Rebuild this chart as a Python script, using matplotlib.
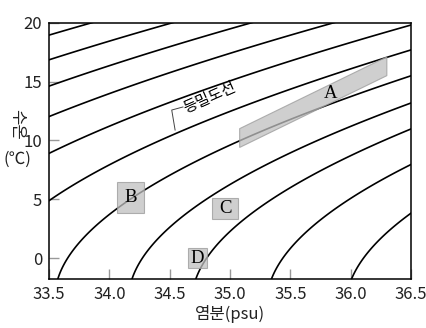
import numpy as np
import matplotlib.pyplot as plt
import matplotlib.patches as patches

plt.rcParams['font.family'] = ['Noto Sans CJK KR', 'DejaVu Sans']

# 등밀도선 값 (sigma-t), 그림에서 읽은 값
sigma_levels = [23.89, 24.4, 24.9, 25.42, 25.96, 26.5, 27.02, 27.52, 27.95, 28.46, 29.0]

x_ticks = [33.5, 34.0, 34.5, 35.0, 35.5, 36.0, 36.5]
y_ticks = [0, 5, 10, 15, 20]

# 수괴 B, C, D (염분 범위, 수온 범위)
box_labels = ['B', 'C', 'D']
box_sal_min = [34.065, 34.85, 34.65]
box_sal_max = [34.29, 35.07, 34.81]
box_temp_min = [3.8, 3.3, -0.82]
box_temp_max = [6.47, 5.08, 0.83]

# 수괴 A (기울어진 영역)
area_a_sal = [35.08, 35.08, 36.3, 36.3]
area_a_temp = [11.0, 9.4, 15.5, 17.1]
area_a_label = (35.83, 14.0)

# 등밀도선 이름표
iso_label_pos = (34.83, 13.6)
leader_sal = [34.61, 34.517, 34.545]
leader_temp = [12.84, 12.58, 10.88]


def sigma_t(s, t):
    # UNESCO 1980 해수 상태방정식 (해수면)
    rho_w = (999.842594 + 6.793952e-2 * t - 9.095290e-3 * t**2
             + 1.001685e-4 * t**3 - 1.120083e-6 * t**4 + 6.536332e-9 * t**5)
    a = 8.24493e-1 - 4.0899e-3 * t + 7.6438e-5 * t**2 - 8.2467e-7 * t**3 + 5.3875e-9 * t**4
    b = -5.72466e-3 + 1.0227e-4 * t - 1.6546e-6 * t**2
    c = 4.8314e-4
    return rho_w + a * s + b * s**1.5 + c * s**2 - 1000


fig = plt.figure(figsize=(4.27, 3.28), dpi=100)
ax = fig.add_axes([0.1148, 0.1485, 0.8477, 0.7823])

ss, tt = np.meshgrid(np.linspace(33.3, 36.7, 400), np.linspace(-2.5, 20.5, 400))
ax.contour(ss, tt, sigma_t(ss, tt), levels=sigma_levels, colors='black', linewidths=1.2)

# 영역 A
poly = patches.Polygon(list(zip(area_a_sal, area_a_temp)), closed=True,
                       facecolor='#c0c0c0', edgecolor='#999999', lw=0.8, alpha=0.75, zorder=3)
ax.add_patch(poly)
ax.text(area_a_label[0], area_a_label[1], 'A', family='Liberation Serif', fontsize=13.5,
        ha='center', va='center', zorder=4)

# 영역 B, C, D
for lab, s0, s1, t0, t1 in zip(box_labels, box_sal_min, box_sal_max, box_temp_min, box_temp_max):
    rect = patches.Rectangle((s0, t0), s1 - s0, t1 - t0, facecolor='#c0c0c0',
                             edgecolor='#999999', lw=0.8, alpha=0.75, zorder=3)
    ax.add_patch(rect)
    ax.text((s0 + s1) / 2, (t0 + t1) / 2, lab, family='Liberation Serif', fontsize=13.5,
            ha='center', va='center', zorder=4)

# 등밀도선 표시
ax.text(iso_label_pos[0], iso_label_pos[1], '등밀도선', fontsize=11, rotation=24,
        ha='center', va='center', rotation_mode='anchor')
ax.plot(leader_sal, leader_temp, color='#444444', lw=0.7)

ax.set_xlim(33.5, 36.5)
ax.set_ylim(-1.8, 20)
ax.set_xticks(x_ticks)
ax.set_xticklabels([f'{v:.1f}' for v in x_ticks])
ax.set_yticks(y_ticks)
ax.tick_params(direction='in', length=7, width=1, color='#999999', labelcolor='#222222',
               labelsize=12, pad=5)
for sp in ax.spines.values():
    sp.set_linewidth(1.1)

ax.set_xlabel('염분(psu)', fontsize=12, labelpad=1, color='#222222')
fig.text(0.04, 0.622, '수온', rotation=-90, fontsize=12, ha='center', va='center', color='#222222')
fig.text(0.04, 0.515, '(℃)', fontsize=12, ha='center', va='center', color='#222222')

fig.savefig('out.png', dpi=100)
